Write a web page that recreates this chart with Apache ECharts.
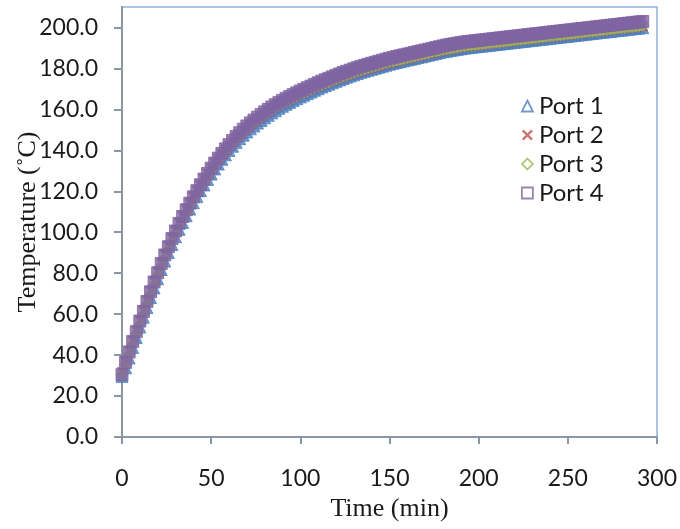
<!DOCTYPE html>
<html>
<head>
<meta charset="utf-8">
<script src="https://cdn.jsdelivr.net/npm/echarts@6/dist/echarts.min.js"></script>
<style>html,body{margin:0;padding:0;background:#fff}#c{width:680px;height:529px}</style>
</head>
<body>
<div id="c"></div>
<script>
// Time (min)
var time = [0,2,4,6,8,10,12,14,16,18,20,22,24,26,28,30,32,34,36,38,40,42,44,46,48,50,52,54,56,58,60,62,64,66,68,70,72,74,76,78,80,82,84,86,88,90,92,94,96,98,100,102,104,106,108,110,112,114,116,118,120,122,124,126,128,130,132,134,136,138,140,142,144,146,148,150,152,154,156,158,160,162,164,166,168,170,172,174,176,178,180,182,184,186,188,190,192,194,196,198,200,202,204,206,208,210,212,214,216,218,220,222,224,226,228,230,232,234,236,238,240,242,244,246,248,250,252,254,256,258,260,262,264,266,268,270,272,274,276,278,280,282,284,286,288,290,292];
var port1 = [29.6,33.8,38.6,43.7,48.6,53.7,58.5,63.2,68.1,72.8,77.3,81.8,85.9,90.1,94.0,97.8,101.4,104.8,108.1,111.3,114.4,117.4,120.3,123.1,125.8,128.4,130.9,133.3,135.6,137.8,139.9,142.0,143.9,145.7,147.4,149.0,150.5,151.9,153.3,154.6,155.9,157.1,158.3,159.4,160.5,161.5,162.5,163.4,164.3,165.2,166.1,166.9,167.7,168.5,169.3,170.1,170.9,171.6,172.3,173.0,173.7,174.4,175.1,175.7,176.3,176.9,177.5,178.1,178.6,179.1,179.6,180.1,180.6,181.1,181.6,182.1,182.5,182.9,183.3,183.7,184.1,184.5,184.9,185.3,185.7,186.1,186.5,186.9,187.3,187.7,188.1,188.4,188.7,189.0,189.3,189.6,189.9,190.1,190.3,190.5,190.7,190.9,191.1,191.3,191.5,191.7,191.9,192.1,192.3,192.5,192.7,192.9,193.1,193.3,193.5,193.7,193.9,194.1,194.3,194.5,194.7,194.9,195.1,195.3,195.5,195.7,195.9,196.1,196.3,196.5,196.7,196.9,197.1,197.3,197.5,197.7,197.9,198.1,198.3,198.5,198.7,198.9,199.1,199.3,199.5,199.7,199.9];
var port2 = [31.8,37.2,42.1,47.0,52.1,57.0,61.9,66.7,71.4,76.1,80.8,85.1,89.3,93.4,97.2,101.0,104.6,107.9,111.2,114.4,117.4,120.4,123.2,126.0,128.7,131.2,133.7,136.0,138.3,140.4,142.5,144.4,146.3,148.0,149.7,151.2,152.7,154.1,155.4,156.7,158.0,159.1,160.3,161.3,162.4,163.3,164.3,165.1,166.0,166.8,167.7,168.4,169.2,169.9,170.7,171.4,172.2,172.8,173.5,174.1,174.8,175.4,176.1,176.6,177.2,177.8,178.3,178.9,179.4,179.9,180.4,180.8,181.3,181.8,182.3,182.8,183.2,183.6,184.0,184.4,184.8,185.2,185.6,186.0,186.4,186.8,187.2,187.6,188.0,188.4,188.8,189.1,189.4,189.7,190.0,190.3,190.6,190.8,191.0,191.2,191.4,191.6,191.8,192.0,192.2,192.4,192.6,192.8,193.0,193.2,193.4,193.6,193.8,194.0,194.2,194.4,194.6,194.8,195.0,195.2,195.4,195.6,195.8,196.0,196.2,196.4,196.6,196.8,197.0,197.2,197.4,197.6,197.8,198.0,198.2,198.4,198.6,198.8,199.0,199.2,199.4,199.6,199.8,200.0,200.2,200.4,200.6];
var port3 = [30.6,35.1,40.2,45.2,50.3,55.1,60.0,64.8,69.6,74.3,78.9,83.3,87.5,91.6,95.5,99.3,102.9,106.3,109.6,112.8,115.9,118.9,121.8,124.6,127.3,129.9,132.4,134.8,137.1,139.3,141.4,143.4,145.3,147.1,148.8,150.4,151.9,153.3,154.7,156.0,157.3,158.5,159.7,160.8,161.9,162.9,163.9,164.8,165.7,166.6,167.5,168.3,169.1,169.9,170.7,171.5,172.2,172.9,173.6,174.3,175.0,175.7,176.4,177.0,177.6,178.2,178.8,179.4,179.9,180.4,180.9,181.4,181.9,182.4,182.9,183.4,183.7,184.1,184.5,184.9,185.3,185.7,186.1,186.5,186.9,187.3,187.7,188.1,188.5,188.9,189.3,189.6,189.9,190.2,190.5,190.8,191.1,191.3,191.5,191.7,191.9,192.1,192.3,192.5,192.7,192.9,193.1,193.3,193.5,193.7,193.9,194.1,194.3,194.5,194.7,194.9,195.1,195.3,195.5,195.7,195.9,196.1,196.3,196.5,196.7,196.9,197.1,197.3,197.5,197.7,197.9,198.1,198.3,198.5,198.7,198.9,199.1,199.3,199.5,199.7,199.9,200.1,200.3,200.5,200.7,200.9,201.1];
var port4 = [30.4,36.4,41.5,46.6,51.4,56.6,61.3,66.2,70.9,75.7,80.2,84.7,88.9,92.9,96.9,100.6,104.3,107.7,111.0,114.2,117.3,120.3,123.2,126.0,128.7,131.3,133.8,136.2,138.5,140.7,142.8,144.8,146.8,148.6,150.3,151.9,153.4,154.8,156.2,157.5,158.8,160.0,161.2,162.3,163.4,164.4,165.4,166.3,167.2,168.1,169.0,169.8,170.6,171.4,172.2,173.0,173.8,174.5,175.2,175.9,176.6,177.3,178.0,178.6,179.2,179.8,180.4,181.0,181.5,182.0,182.5,183.0,183.5,184.0,184.5,185.0,185.4,185.8,186.2,186.6,187.0,187.4,187.8,188.2,188.6,189.0,189.4,189.8,190.2,190.6,191.0,191.4,191.7,192.0,192.3,192.6,192.9,193.1,193.3,193.5,193.7,193.9,194.1,194.3,194.5,194.7,194.9,195.1,195.3,195.5,195.7,195.9,196.1,196.3,196.5,196.7,196.9,197.1,197.3,197.5,197.7,197.9,198.1,198.3,198.5,198.7,198.9,199.1,199.3,199.5,199.7,199.9,200.1,200.3,200.5,200.7,200.9,201.1,201.3,201.5,201.7,201.9,202.1,202.3,202.5,202.7,202.9];
var yTicks = [0,20,40,60,80,100,120,140,160,180,200];
var seriesNames = ['Port 1','Port 2','Port 3','Port 4'];

var colors = ['#4f81bd','#c0504d','#9bbb59','#8064a2'];
var crossPath = 'path://M0,1.5L1.5,0L5,3.5L8.5,0L10,1.5L6.5,5L10,8.5L8.5,10L5,6.5L1.5,10L0,8.5L3.5,5Z';
var symbols = ['triangle', crossPath, 'diamond', 'rect'];
var allData = [port1, port2, port3, port4];

function pairs(arr){ return time.map(function(t,i){ return [t, arr[i]]; }); }

var series = seriesNames.map(function(name, k){
  return {
    name: name,
    type: 'scatter',
    symbol: symbols[k],
    symbolSize: k === 1 ? 11 : 12,
    data: pairs(allData[k]),
    itemStyle: {color: colors[k], borderColor: colors[k], borderWidth: k === 1 ? 0 : 1},
    emphasis: {disabled: true},
    z: 2 + k
  };
});

var chart = echarts.init(document.getElementById('c'), null, {renderer: 'canvas'});
chart.setOption({
  animation: false,
  backgroundColor: '#ffffff',
  grid: {left: 122, right: 23, top: 7, bottom: 92, outerBoundsMode: 'none', containLabel: false,
    show: true, borderColor: '#8fb2de', borderWidth: 1.5, backgroundColor: 'transparent'},
  legend: {
    orient: 'vertical', left: 516, top: 89,
    itemWidth: 11, itemHeight: 11, itemGap: 5,
    textStyle: {fontFamily: 'Lato', fontSize: 24, color: '#1a1a1a', padding: [0,0,0,1]},
    data: seriesNames.map(function(n, k){
      return {name: n, icon: symbols[k],
        itemStyle: k === 1 ? {color: colors[k], borderWidth: 0} : {color: '#ffffff', borderColor: colors[k], borderWidth: 1.8}};
    })
  },
  xAxis: {
    type: 'value', min: 0, max: 300, interval: 50,
    name: 'Time (min)', nameLocation: 'middle', nameGap: 59,
    nameTextStyle: {fontFamily: 'Liberation Serif', fontSize: 26, color: '#1a1a1a'},
    axisLine: {show: true, lineStyle: {color: '#8a96a3', width: 2}},
    axisTick: {show: true, inside: false, length: 7, lineStyle: {color: '#8a96a3', width: 2}},
    axisLabel: {fontFamily: 'Lato', fontSize: 23, color: '#1a1a1a', margin: 30},
    splitLine: {show: false}
  },
  yAxis: {
    type: 'value', min: 0, max: 210, interval: 10,
    name: 'Temperature (\u02daC)', nameLocation: 'middle', nameGap: 81, nameMoveOverlap: false,
    nameTextStyle: {fontFamily: 'Liberation Serif', fontSize: 26, color: '#1a1a1a'},
    axisLine: {show: true, lineStyle: {color: '#8a96a3', width: 2}},
    axisTick: {show: true, inside: false, length: 8, customValues: yTicks, lineStyle: {color: '#8a96a3', width: 2}},
    axisLabel: {fontFamily: 'Lato', fontSize: 23, color: '#1a1a1a', margin: 24, customValues: yTicks,
      formatter: function(v){ return v.toFixed(1); }},
    splitLine: {show: false}
  },
  series: series
});
</script>
</body>
</html>
